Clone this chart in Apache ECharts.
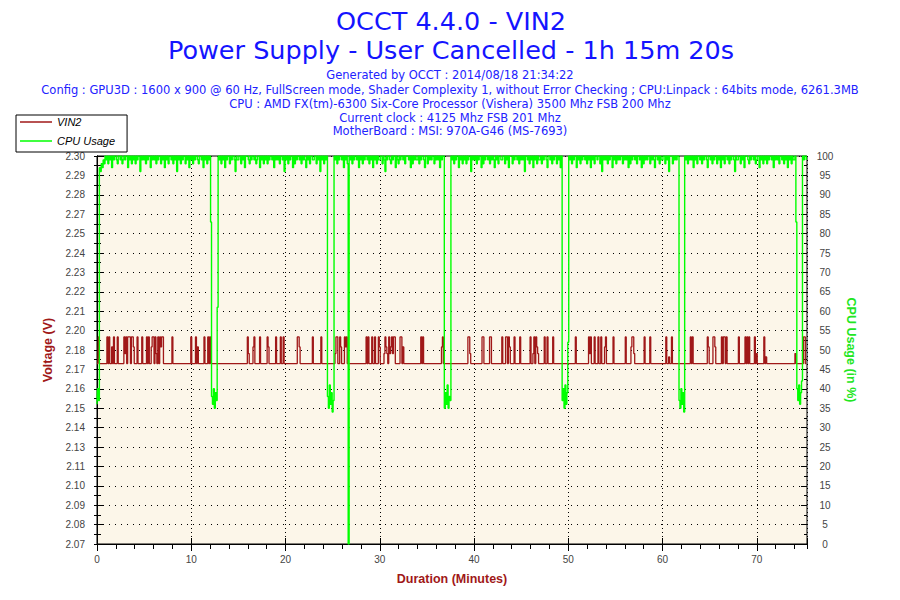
<!DOCTYPE html>
<html><head><meta charset="utf-8">
<script src="https://cdn.jsdelivr.net/npm/echarts@6/dist/echarts.min.js"></script>
<style>html,body{margin:0;padding:0;background:#fff}#c{width:900px;height:600px}</style>
</head><body><div id="c"></div>
<script>
const titleLines = ['OCCT 4.4.0 - VIN2', 'Power Supply - User Cancelled - 1h 15m 20s'];
const subtitleLines = [
  'Generated by OCCT : 2014/08/18 21:34:22',
  'Config : GPU3D : 1600 x 900 @ 60 Hz, FullScreen mode, Shader Complexity 1, without Error Checking ; CPU:Linpack : 64bits mode, 6261.3MB',
  'CPU : AMD FX(tm)-6300 Six-Core Processor (Vishera) 3500 Mhz FSB 200 Mhz',
  'Current clock : 4125 Mhz FSB 201 Mhz',
  'MotherBoard : MSI: 970A-G46 (MS-7693)'
];
const seriesNames = ['VIN2', 'CPU Usage'];
const voltageTickLabels = ['2.07','2.08','2.09','2.10','2.11','2.13','2.14','2.15','2.16','2.17','2.18','2.20','2.21','2.22','2.23','2.24','2.25','2.27','2.28','2.29','2.30'];
const voltageRange = [2.0675, 2.30083];
const cpuRange = [0, 100];
const durationMax = 75.33;
const sampleStepMin = 0.1;

// VIN2 readings (V), one every 0.1 min
const vin2 = [
2.176,2.176,2.192,2.176,2.176,2.176,2.176,2.176,2.176,2.176,
2.176,2.192,2.176,2.192,2.176,2.176,2.186,2.176,2.192,2.176,
2.176,2.176,2.192,2.176,2.176,2.176,2.176,2.176,2.176,2.192,
2.182,2.192,2.176,2.192,2.192,2.192,2.176,2.192,2.192,2.186,
2.176,2.176,2.176,2.192,2.176,2.176,2.176,2.176,2.192,2.176,
2.176,2.176,2.176,2.192,2.176,2.192,2.176,2.176,2.186,2.192,
2.192,2.176,2.192,2.182,2.176,2.192,2.176,2.192,2.186,2.192,
2.192,2.176,2.176,2.176,2.176,2.176,2.176,2.176,2.176,2.176,
2.192,2.176,2.176,2.176,2.176,2.176,2.176,2.176,2.176,2.176,
2.176,2.176,2.176,2.176,2.176,2.176,2.176,2.176,2.176,2.176,
2.192,2.176,2.176,2.176,2.176,2.192,2.176,2.186,2.176,2.176,
2.176,2.176,2.176,2.176,2.192,2.176,2.176,2.176,2.192,2.176,
2.192,2.176,2.176,2.176,2.176,2.176,2.176,2.176,2.176,2.176,
2.176,2.176,2.176,2.176,2.176,2.176,2.176,2.176,2.176,2.176,
2.176,2.176,2.176,2.176,2.176,2.176,2.176,2.176,2.176,2.176,
2.176,2.176,2.176,2.176,2.176,2.176,2.176,2.176,2.176,2.176,
2.192,2.182,2.176,2.176,2.176,2.176,2.186,2.192,2.176,2.176,
2.176,2.176,2.176,2.192,2.176,2.176,2.176,2.176,2.176,2.176,
2.176,2.192,2.186,2.176,2.176,2.176,2.176,2.176,2.176,2.176,
2.192,2.176,2.176,2.176,2.176,2.192,2.176,2.176,2.192,2.176,
2.176,2.176,2.176,2.176,2.176,2.176,2.176,2.176,2.176,2.176,
2.176,2.176,2.176,2.192,2.192,2.186,2.176,2.176,2.176,2.176,
2.176,2.176,2.176,2.176,2.176,2.176,2.176,2.176,2.176,2.192,
2.176,2.176,2.176,2.176,2.176,2.176,2.176,2.176,2.192,2.176,
2.176,2.176,2.176,2.176,2.176,2.176,2.176,2.176,2.176,2.176,
2.176,2.176,2.176,2.182,2.192,2.192,2.176,2.176,2.192,2.186,
2.176,2.176,2.176,2.192,2.186,2.192,2.176,2.176,2.176,2.176,
2.176,2.176,2.176,2.176,2.176,2.176,2.176,2.176,2.176,2.176,
2.176,2.176,2.176,2.176,2.176,2.176,2.192,2.176,2.192,2.176,
2.176,2.176,2.192,2.176,2.176,2.192,2.176,2.176,2.176,2.192,
2.186,2.176,2.176,2.176,2.176,2.182,2.192,2.186,2.182,2.176,
2.192,2.182,2.186,2.192,2.182,2.192,2.192,2.176,2.176,2.176,
2.176,2.176,2.192,2.192,2.176,2.186,2.176,2.176,2.176,2.176,
2.176,2.176,2.176,2.176,2.176,2.176,2.176,2.176,2.176,2.176,
2.176,2.176,2.176,2.176,2.192,2.176,2.192,2.176,2.176,2.176,
2.176,2.176,2.176,2.176,2.176,2.176,2.176,2.176,2.176,2.176,
2.176,2.176,2.176,2.176,2.176,2.176,2.186,2.192,2.176,2.176,
2.176,2.176,2.176,2.176,2.176,2.176,2.176,2.176,2.176,2.176,
2.176,2.176,2.176,2.176,2.176,2.176,2.176,2.176,2.176,2.176,
2.176,2.176,2.176,2.176,2.192,2.192,2.182,2.176,2.176,2.176,
2.176,2.176,2.176,2.176,2.176,2.176,2.176,2.176,2.176,2.192,
2.192,2.176,2.176,2.176,2.176,2.176,2.176,2.192,2.192,2.176,
2.176,2.176,2.176,2.176,2.176,2.176,2.176,2.176,2.176,2.176,
2.192,2.176,2.176,2.176,2.192,2.192,2.176,2.192,2.186,2.176,
2.176,2.176,2.176,2.192,2.176,2.176,2.176,2.176,2.176,2.192,
2.176,2.176,2.176,2.176,2.176,2.176,2.176,2.176,2.176,2.176,
2.192,2.176,2.176,2.182,2.192,2.176,2.192,2.186,2.182,2.176,
2.176,2.176,2.176,2.176,2.176,2.192,2.176,2.176,2.192,2.176,
2.176,2.176,2.176,2.176,2.192,2.176,2.176,2.176,2.176,2.176,
2.176,2.176,2.176,2.176,2.176,2.176,2.176,2.176,2.176,2.176,
2.176,2.176,2.176,2.176,2.176,2.176,2.176,2.176,2.192,2.176,
2.176,2.176,2.176,2.176,2.176,2.176,2.176,2.176,2.176,2.176,
2.176,2.176,2.192,2.182,2.192,2.176,2.176,2.176,2.192,2.176,
2.176,2.176,2.192,2.176,2.176,2.192,2.176,2.176,2.176,2.186,
2.192,2.176,2.176,2.176,2.176,2.176,2.176,2.176,2.192,2.176,
2.176,2.176,2.176,2.176,2.176,2.176,2.176,2.176,2.176,2.176,
2.176,2.192,2.176,2.176,2.176,2.176,2.176,2.186,2.192,2.192,
2.182,2.176,2.176,2.176,2.176,2.176,2.176,2.176,2.176,2.176,
2.176,2.192,2.176,2.176,2.176,2.176,2.176,2.192,2.176,2.176,
2.176,2.176,2.176,2.176,2.176,2.176,2.176,2.176,2.176,2.176,
2.176,2.176,2.176,2.176,2.192,2.176,2.176,2.180,2.176,2.176,
2.192,2.176,2.176,2.176,2.176,2.176,2.176,2.176,2.176,2.176,
2.176,2.176,2.176,2.176,2.176,2.176,2.176,2.176,2.176,2.176,
2.192,2.176,2.192,2.176,2.176,2.176,2.176,2.176,2.176,2.176,
2.176,2.176,2.176,2.176,2.176,2.176,2.176,2.176,2.192,2.186,
2.176,2.176,2.176,2.176,2.192,2.192,2.186,2.176,2.176,2.176,
2.176,2.176,2.176,2.192,2.176,2.192,2.192,2.176,2.192,2.176,
2.176,2.176,2.176,2.176,2.176,2.176,2.176,2.176,2.176,2.176,
2.176,2.192,2.176,2.176,2.176,2.176,2.176,2.176,2.192,2.176,
2.192,2.176,2.192,2.176,2.176,2.176,2.176,2.176,2.192,2.176,
2.182,2.176,2.176,2.176,2.176,2.176,2.176,2.176,2.192,2.176,
2.180,2.176,2.176,2.176,2.176,2.176,2.176,2.176,2.176,2.176,
2.176,2.176,2.176,2.176,2.176,2.176,2.176,2.176,2.176,2.176,
2.176,2.176,2.176,2.176,2.176,2.176,2.176,2.176,2.176,2.176,
2.176,2.182,2.176,2.176,2.176,2.176,2.176,2.176,2.176,2.176,
2.192,2.192,2.176,2.176
];

// CPU usage (%), one every 0.1 min
const cpuUsage = [
36,40,37,97,96,98,97,99,98,100,
99,100,98,100,99,100,97,100,99,100,
100,99,98,100,100,99,100,98,99,100,
99,100,100,97,100,99,100,98,100,99,
100,98,100,99,100,100,96,100,99,100,
99,100,98,100,99,100,100,97,100,99,
100,99,100,98,100,99,100,100,98,100,
99,100,97,100,99,100,98,100,100,99,
100,98,100,99,100,96,100,99,100,98,
100,99,100,100,98,100,99,100,97,100,
99,100,98,100,99,100,100,99,98,100,
100,99,100,97,100,99,100,98,100,99,
100,83,38,36,40,35,39,37,61,100,
99,100,98,100,99,100,97,100,99,100,
100,98,100,99,100,100,99,96,100,99,
99,100,100,98,100,99,100,97,100,100,
100,99,98,100,99,100,100,99,100,98,
99,100,100,97,100,99,100,98,100,99,
100,98,100,99,100,100,99,100,97,100,
99,100,99,100,98,100,100,99,100,96,
100,99,100,98,100,99,100,100,97,100,
98,100,99,100,100,99,100,98,100,99,
100,99,97,100,99,100,98,100,100,99,
99,100,100,98,100,99,100,96,100,99,
100,98,100,99,100,38,35,41,36,39,
34,37,100,99,100,98,100,99,100,100,
99,100,97,100,99,100,98,0,100,99,
100,98,100,99,100,100,99,100,97,100,
99,100,98,100,99,100,100,99,100,98,
100,99,100,97,100,99,100,98,100,99,
99,100,100,98,100,99,96,100,99,100,
100,99,98,100,99,100,100,97,100,99,
98,100,99,100,100,99,100,98,100,100,
100,99,100,97,100,98,100,99,100,99,
99,100,98,100,99,100,100,99,97,100,
100,98,100,99,100,99,100,100,98,100,
99,100,99,100,97,100,99,100,100,35,
39,36,41,35,38,37,100,99,100,98,
100,99,100,100,97,100,99,100,98,100,
99,100,98,100,99,100,100,96,100,99,
100,99,100,98,100,99,100,100,97,100,
98,100,99,100,100,99,100,98,100,99,
100,99,97,100,99,100,98,100,100,99,
99,100,100,98,100,99,100,97,100,100,
100,98,100,99,100,100,99,100,98,100,
99,100,99,100,96,100,100,99,100,98,
100,99,100,97,100,99,100,98,100,99,
99,100,98,100,99,100,100,99,97,100,
100,99,100,98,100,99,100,100,98,100,
99,100,97,100,37,40,35,41,36,39,
52,100,99,100,98,100,99,100,100,97,
100,99,100,98,100,99,100,100,99,100,
98,100,99,100,97,100,99,100,98,100,
100,99,100,100,98,100,96,100,99,100,
99,100,98,100,99,100,100,97,100,99,
100,98,100,99,100,99,100,100,98,100,
99,100,99,100,97,100,98,100,99,100,
100,99,100,98,100,100,99,100,97,100,
98,100,99,100,99,100,100,98,100,99,
100,99,97,100,100,99,100,98,100,99,
99,100,100,98,100,99,100,96,100,100,
100,98,100,99,100,99,100,100,37,35,
40,36,39,34,100,99,100,98,100,99,
100,99,100,97,100,99,100,98,100,100,
99,100,98,100,99,100,100,99,97,100,
100,99,100,98,100,99,100,100,98,100,
99,100,97,100,99,100,98,100,100,99,
100,98,100,99,100,100,99,96,100,99,
99,100,100,98,100,99,100,97,100,100,
100,99,98,100,99,100,100,99,100,98,
99,100,100,97,100,99,100,98,100,99,
100,98,100,99,100,100,99,100,97,100,
99,100,99,100,98,100,100,99,100,98,
100,99,100,97,100,99,100,98,100,99,
99,100,83,40,37,41,36,39,42,100,
99,100,100,99
];

const DARK_RED = '#A01818';
const GREEN = '#00FF00';
const BLUE = '#1414FF';
const TICK_FONT = 'Liberation Sans';

const toPoints = arr => arr.map((v, i) => [Math.round(i * sampleStepMin * 10) / 10, v]);

const chart = echarts.init(document.getElementById('c'), null, {renderer: 'svg', width: 900, height: 600});

const graphics = [
  {type: 'text', x: 451, y: 21, style: {text: titleLines[0], font: '25.5px "DejaVu Sans"', fill: BLUE, textAlign: 'center', textVerticalAlign: 'middle'}},
  {type: 'text', x: 451, y: 50, style: {text: titleLines[1], font: '25.5px "DejaVu Sans"', fill: BLUE, textAlign: 'center', textVerticalAlign: 'middle'}}
];
const subY = [75, 90, 104, 118, 131];
subtitleLines.forEach((t, k) => graphics.push({type: 'text', x: 450, y: subY[k],
  style: {text: t, font: '11.5px "DejaVu Sans"', fill: '#2222FF', textAlign: 'center', textVerticalAlign: 'middle'}}));

const hiddenPart = {axisLine: {show: false}, axisLabel: {show: false}, splitLine: {show: false}};

chart.setOption({
  animation: false,
  backgroundColor: '#FFFFFF',
  graphic: graphics,
  grid: {left: 97, right: 93, top: 156, bottom: 56, show: true, backgroundColor: '#FCF6E9', borderColor: '#000', borderWidth: 1},
  legend: {
    data: seriesNames.map(n => ({name: n, icon: 'rect'})), orient: 'vertical', left: 16, top: 115,
    padding: [1, 12, 5, 4], itemGap: 7,
    itemWidth: 32, itemHeight: 1.5, backgroundColor: '#fff', borderColor: '#000', borderWidth: 1, borderRadius: 0,
    selectedMode: false, z: 20,
    textStyle: {fontFamily: 'Liberation Sans', fontStyle: 'italic', fontSize: 11, color: '#000', lineHeight: 12}
  },
  xAxis: [
    {type: 'value', min: 0, max: durationMax, interval: 10, position: 'bottom',
     axisLine: {lineStyle: {color: '#000', width: 1}},
     axisTick: {length: 7, lineStyle: {color: '#000'}},
     axisLabel: {fontFamily: TICK_FONT, fontSize: 10, color: '#444', margin: 10, showMaxLabel: false},
     splitLine: {show: true, lineStyle: {color: '#000', type: [1, 3], width: 1}},
     name: 'Duration (Minutes)', nameLocation: 'middle', nameGap: 28,
     nameTextStyle: {color: DARK_RED, fontWeight: 'bold', fontFamily: 'Liberation Sans', fontSize: 12.5}},
    Object.assign({type: 'value', min: 0, max: durationMax, interval: 2, position: 'bottom',
     axisTick: {length: 5, lineStyle: {color: '#000'}}}, hiddenPart),
    Object.assign({type: 'value', min: 0, max: durationMax, interval: 10, position: 'bottom',
     axisTick: {inside: true, length: 6, lineStyle: {color: '#000'}}}, hiddenPart)
  ],
  yAxis: [
    {type: 'value', min: 0, max: voltageTickLabels.length - 1, interval: 1, position: 'left',
     axisLine: {show: true, lineStyle: {color: '#000'}},
     axisTick: {show: true, inside: true, length: 7, lineStyle: {color: '#000'}},
     minorTick: {show: true, splitNumber: 2, length: 4, lineStyle: {color: '#000'}},
     axisLabel: {fontFamily: TICK_FONT, fontSize: 10, color: '#444', margin: 12,
       formatter: v => voltageTickLabels[Math.round(v)] || ''},
     splitLine: {show: true, lineStyle: {color: '#000', type: [1, 5], width: 1}},
     name: 'Voltage (V)', nameLocation: 'middle', nameGap: 40,
     nameTextStyle: {color: DARK_RED, fontWeight: 'bold', fontFamily: 'Liberation Sans', fontSize: 12.5}},
    {type: 'value', min: cpuRange[0], max: cpuRange[1], interval: 5, position: 'right',
     axisLine: {show: true, lineStyle: {color: '#000'}},
     axisTick: {show: true, length: 7, lineStyle: {color: '#000'}},
     minorTick: {show: true, splitNumber: 2, length: 4, lineStyle: {color: '#000'}},
     axisLabel: {fontFamily: TICK_FONT, fontSize: 10, color: '#444', margin: 18, align: 'center'},
     splitLine: {show: false},
     name: 'CPU Usage (in %)', nameLocation: 'middle', nameGap: 36, nameRotate: -90,
     nameTextStyle: {color: '#22E622', fontWeight: 'bold', fontFamily: 'Liberation Sans', fontSize: 12.5}},
    {type: 'value', min: voltageRange[0], max: voltageRange[1], show: false},
    Object.assign({type: 'value', min: cpuRange[0], max: cpuRange[1], interval: 5, position: 'right',
     axisTick: {show: true, inside: true, length: 6, lineStyle: {color: '#000'}},
     minorTick: {show: true, splitNumber: 2, length: 3, lineStyle: {color: '#000'}}}, hiddenPart),
    Object.assign({type: 'value', min: 0, max: voltageTickLabels.length - 1, interval: 1, position: 'left',
     axisTick: {show: true, length: 3, lineStyle: {color: '#000'}},
     minorTick: {show: true, splitNumber: 2, length: 3, lineStyle: {color: '#000'}}}, hiddenPart)
  ],
  series: [
    {name: seriesNames[0], type: 'line', step: 'middle', xAxisIndex: 0, yAxisIndex: 2, data: toPoints(vin2),
     symbol: 'none', lineStyle: {color: DARK_RED, width: 1.3}, itemStyle: {color: DARK_RED}, z: 3},
    {name: seriesNames[1], type: 'line', step: 'middle', xAxisIndex: 0, yAxisIndex: 1, data: toPoints(cpuUsage),
     symbol: 'none', lineStyle: {color: GREEN, width: 1.4}, itemStyle: {color: GREEN}, z: 4}
  ]
});
</script>
</body></html>
